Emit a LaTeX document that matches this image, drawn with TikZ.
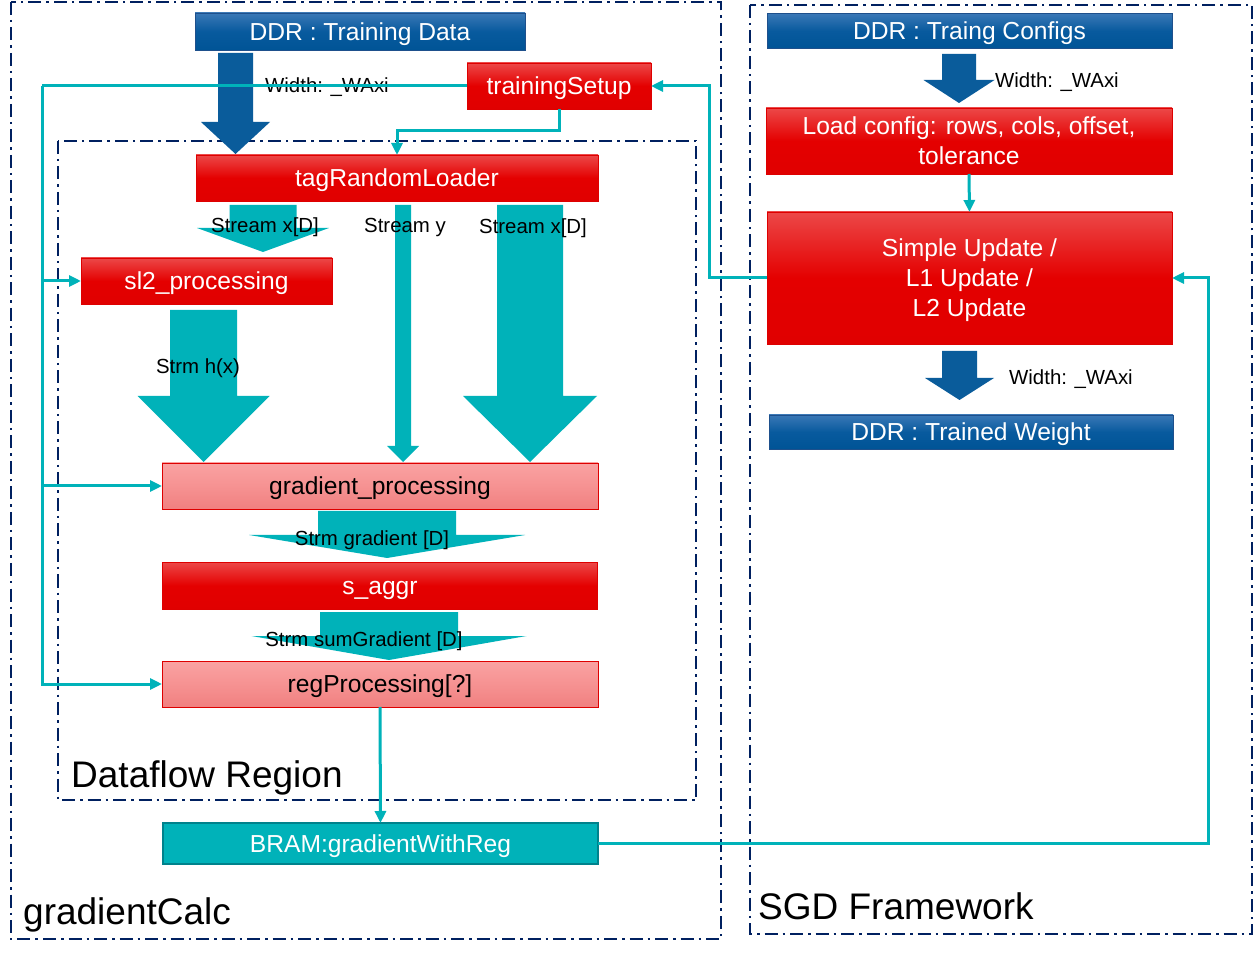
\documentclass[tikz,border=0pt]{standalone}
\usepackage{fontspec}
\setmainfont{Liberation Sans}
\usetikzlibrary{arrows.meta,calc}
\definecolor{navy}{RGB}{0,32,96}
\definecolor{tealc}{RGB}{0,178,185}
\definecolor{tealdark}{RGB}{0,130,140}
\definecolor{bluearr}{RGB}{10,92,155}
\definecolor{bluetop}{RGB}{58,120,182}
\definecolor{bluemid}{RGB}{8,90,158}
\definecolor{bluebot}{RGB}{0,84,150}
\definecolor{blueedge}{RGB}{30,80,140}
\definecolor{redtop}{RGB}{236,72,72}
\definecolor{redmain}{RGB}{228,0,0}
\definecolor{redbot}{RGB}{224,0,0}
\definecolor{pinktop}{RGB}{250,162,162}
\definecolor{pinkmid}{RGB}{246,146,146}
\definecolor{pinkbot}{RGB}{240,128,128}
\definecolor{rededge}{RGB}{222,0,0}
\newcommand\blkarrow[7]{\fill[#1] ({#2-#4},#3) -- ({#2+#4},#3) -- ({#2+#4},#6) -- ({#2+#5},#6) -- (#2,#7) -- ({#2-#5},#6) -- ({#2-#4},#6) -- cycle;}
\newcommand\boxtext[1]{\raisebox{-2.6pt}[\height][\depth]{\begin{tabular}{@{}c@{}}#1\end{tabular}}}
\begin{document}
\begin{tikzpicture}[x=1pt,y=-1pt,
  region/.style={draw=navy,line width=1.8pt,dash pattern=on 13pt off 5pt on 2.5pt off 5pt},
  basebox/.style={rectangle,inner sep=0pt,outer sep=0pt,font=\fontsize{24.6}{30}\selectfont},
  ddrbox/.style={basebox,draw=blueedge,line width=0.8pt,top color=bluetop,bottom color=bluebot,middle color=bluemid,text=white},
  redbox/.style={basebox,draw=rededge,line width=0.8pt,top color=redtop,bottom color=redbot,middle color=redmain,text=white},
  pinkbox/.style={basebox,draw=rededge,line width=0.8pt,top color=pinktop,bottom color=pinkbot,middle color=pinkmid,text=black},
  brambox/.style={basebox,draw=tealdark,line width=1.2pt,fill=tealc,text=white},
  lbl/.style={inner sep=0pt,yshift=-2pt,font=\fontsize{20.4}{24}\selectfont,text=black},
  title/.style={inner sep=0pt,font=\fontsize{37}{44}\selectfont,text=black},
  conn/.style={draw=tealc,line width=3pt,-{Triangle[length=12pt,width=11pt]}},
  plain/.style={draw=tealc,line width=3pt}
]
\useasboundingbox (0,0) rectangle (1254,957);
\fill[white] (0,0) rectangle (1254,957);

% region boxes
\draw[region] (11,2) rectangle (721,939);
\draw[region] (750,5) rectangle (1252,934);
\draw[region] (58,141) rectangle (696,800);

% block arrows
\blkarrow{bluearr}{235.5}{53}{17.5}{34.5}{122}{154}
\blkarrow{tealc}{263}{205}{33.5}{66}{228}{252}
\blkarrow{tealc}{403}{205}{8}{16}{446}{462}
\blkarrow{tealc}{530}{205}{33}{67}{396}{462}
\blkarrow{tealc}{203.5}{310}{33.5}{66}{396}{462}
\blkarrow{tealc}{387}{511}{69}{138}{535}{558}
\blkarrow{tealc}{389}{612}{69}{137.5}{636}{660}
\blkarrow{bluearr}{959}{54}{17}{35.5}{80}{103}
\blkarrow{bluearr}{959.5}{351}{17.5}{34.5}{378}{400}

% nodes
\node[ddrbox,minimum width=330pt,minimum height=37pt] (tdata) at (360,31.5) {\boxtext{DDR : Training Data}};
\node[redbox,minimum width=184pt,minimum height=46pt] (ts) at (559,86) {\boxtext{trainingSetup}};
\node[redbox,minimum width=402pt,minimum height=46pt] (tag) at (397,178) {\boxtext{tagRandomLoader}};
\node[redbox,minimum width=251pt,minimum height=46pt] (sl2) at (206.5,281) {\boxtext{sl2\_processing}};
\node[pinkbox,minimum width=436pt,minimum height=46pt] (grad) at (380,486) {\boxtext{gradient\_processing}};
\node[redbox,minimum width=435pt,minimum height=47pt] (aggr) at (380,585.5) {\boxtext{s\_aggr}};
\node[pinkbox,minimum width=436pt,minimum height=46pt] (reg) at (380,684) {\boxtext{regProcessing[?]}};
\node[brambox,minimum width=435pt,minimum height=41pt] (bram) at (380.5,843.5) {\boxtext{BRAM:gradientWithReg}};
\node[ddrbox,minimum width=405pt,minimum height=35pt] (cfg) at (969.5,31) {\boxtext{DDR : Traing Configs}};
\node[redbox,minimum width=406pt,minimum height=66pt] (load) at (969,141) {\boxtext{Load config: rows, cols, offset,\\tolerance}};
\node[redbox,minimum width=405pt,minimum height=132pt] (upd) at (969.5,278) {\boxtext{Simple Update /\\L1 Update /\\L2 Update}};
\node[ddrbox,minimum width=404pt,minimum height=34pt] (wgt) at (971,432) {\boxtext{DDR : Trained Weight}};

% labels
\node[lbl,anchor=west] (w1) at (265,85) {Width: \_WAxi};
\node[lbl] (sx1) at (265,225) {Stream x[D]};
\node[lbl] (sy) at (405,225) {Stream y};
\node[lbl] (sx2) at (533,226) {Stream x[D]};
\node[lbl] (sh) at (198,366) {Strm h(x)};
\node[lbl] (sg) at (372,538) {Strm gradient [D]};
\node[lbl] (ssg) at (364,639) {Strm sumGradient [D]};
\node[lbl,anchor=west] (w2) at (995,80) {Width: \_WAxi};
\node[lbl,anchor=west] (w3) at (1009,377) {Width: \_WAxi};
\node[title,anchor=base west] (dfr) at (71,787) {Dataflow Region};
\node[title,anchor=base west] (gc) at (23,924) {gradientCalc};
\node[title,anchor=base west] (sgd) at (758,919) {SGD Framework};

% connectors
\coordinate (bus) at (42,86);
\draw[plain] (ts.west) -- (bus);
\draw[conn] (bus) |- (sl2.west);
\draw[conn] (bus) |- (grad.west);
\draw[conn] (bus) |- (reg.west);
\coordinate (tsdown) at ($(ts.south)+(0,22)$);
\draw[conn] (ts.south) -- (tsdown) -| (tag.north);
\coordinate (updleft) at (709,278);
\draw[conn] (upd.west) -- (updleft) |- (ts.east);
\draw[conn] (load.south) -- (upd.north);
\draw[conn] (reg.south) -- (bram.north);
\coordinate (bramright) at (1208,843.5);
\draw[conn] (bram.east) -- (bramright) |- (upd.east);
\end{tikzpicture}
\end{document}
